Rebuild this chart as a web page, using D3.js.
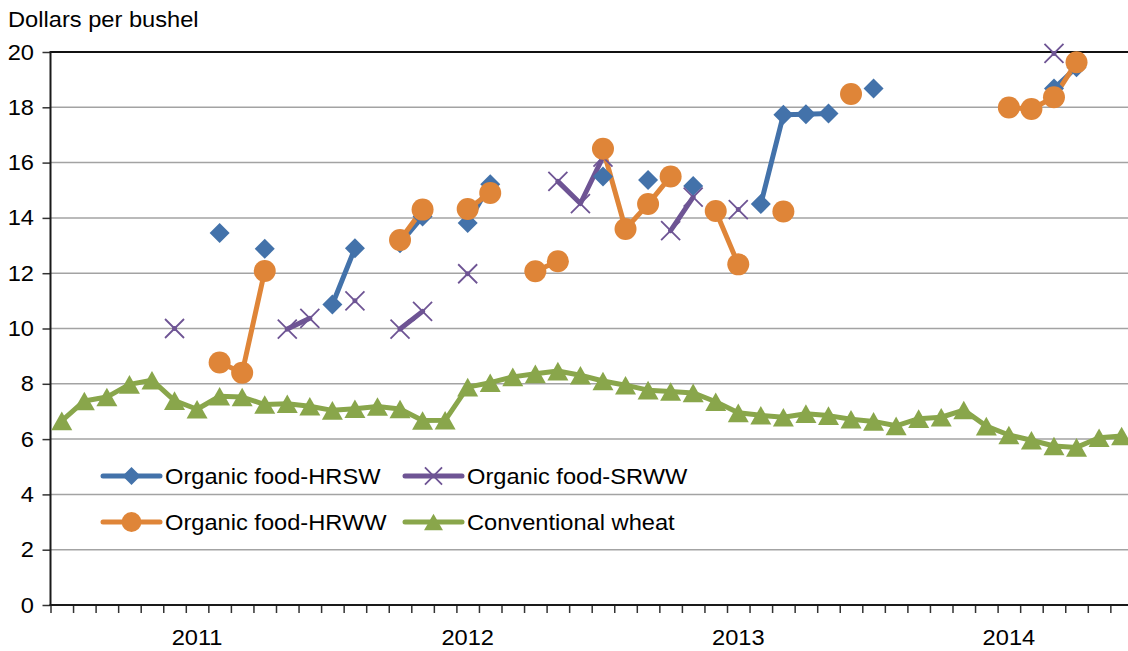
<!DOCTYPE html>
<html><head><meta charset="utf-8">
<script src="https://cdn.jsdelivr.net/npm/d3@7"></script>
<style>
body{margin:0;background:#fff}
svg{display:block}
text{font-family:"Liberation Sans",Arial,Helvetica,sans-serif;fill:#000}
</style>
</head><body>
<svg id="chart" width="1128" height="651"></svg>
<script>
// ---- data ----
const months = [
 "2010-07","2010-08","2010-09","2010-10","2010-11","2010-12",
 "2011-01","2011-02","2011-03","2011-04","2011-05","2011-06","2011-07","2011-08","2011-09","2011-10","2011-11","2011-12",
 "2012-01","2012-02","2012-03","2012-04","2012-05","2012-06","2012-07","2012-08","2012-09","2012-10","2012-11","2012-12",
 "2013-01","2013-02","2013-03","2013-04","2013-05","2013-06","2013-07","2013-08","2013-09","2013-10","2013-11","2013-12",
 "2014-01","2014-02","2014-03","2014-04","2014-05","2014-06"];
const yTicks = [0,2,4,6,8,10,12,14,16,18,20];
const yearLabels = ["2011","2012","2013","2014"];
const seriesNames = ["Organic food-HRSW","Organic food-SRWW","Organic food-HRWW","Conventional wheat"];

const hrsw = [null,null,null,null,null,null,null,13.45,null,12.88,null,null,10.87,12.9,null,13.08,14.05,null,13.82,15.22,
 null,null,null,null,15.5,null,15.37,null,15.15,null,null,14.5,17.73,17.75,17.78,null,18.68,null,null,null,
 null,null,null,null,18.68,19.45,null,null];
const srww = [null,null,null,null,null,10.0,null,null,null,null,9.98,10.37,null,11.0,null,9.98,10.62,null,11.98,null,
 null,null,15.32,14.52,16.2,null,null,13.54,14.75,null,14.3,null,null,null,null,null,null,null,null,null,
 null,null,null,null,19.95,null,null,null];
const hrww = [null,null,null,null,null,null,null,8.77,8.4,12.08,null,null,null,null,null,13.2,14.3,null,14.32,14.9,
 null,12.07,12.43,null,16.5,13.6,14.5,15.5,null,14.25,12.32,null,14.23,null,null,18.48,null,null,null,null,
 null,null,17.99,17.94,18.36,19.63,null,null];
const conventional = [6.66,7.38,7.52,7.98,8.13,7.39,7.08,7.55,7.52,7.25,7.28,7.19,7.04,7.1,7.18,7.09,6.67,6.68,7.88,8.04,
 8.25,8.36,8.46,8.31,8.1,7.95,7.77,7.72,7.67,7.35,6.95,6.86,6.79,6.92,6.85,6.72,6.64,6.48,6.74,6.79,
 7.05,6.47,6.15,5.96,5.75,5.7,6.05,6.11];

const colors = ["#4372aa","#6e5494","#df8538","#89a64b"];
const symbols = ["diamond","x","circle","triangle"];
const allSeries = [hrsw, srww, hrww, conventional];

(function draw() {
  const svg = d3.select("#chart");
  const mLeft = 50.5, mTop = 52, mBottom = 605, step = 22.55;
  const mRight = mLeft + months.length * step;
  const SX = 1.1, FS = 21.5;

  const x = d3.scaleBand().domain(months).range([mLeft, mRight]).padding(0);
  const xc = m => x(m) + x.bandwidth() / 2;
  const xi = d3.scaleLinear().domain([0, months.length]).range([mLeft, mRight]);
  const y = d3.scaleLinear().domain([0, 20]).range([mBottom, mTop]);

  function label(g, txt, tx, ty, anchor) {
    return g.append("text")
      .attr("transform", `translate(${tx},${ty}) scale(${SX},1)`)
      .attr("text-anchor", anchor || "start")
      .style("font-size", FS + "px")
      .text(txt);
  }

  // gridlines
  svg.append("g").selectAll("line").data(yTicks.filter(v => v > 0)).join("line")
    .attr("x1", mLeft).attr("x2", 1128)
    .attr("y1", d => y(d)).attr("y2", d => y(d))
    .attr("stroke", d => d === 20 ? "#111" : "#a3a3a3")
    .attr("stroke-width", d => d === 20 ? 2 : 1.5);

  // y axis
  const ya = svg.append("g").attr("transform", `translate(${mLeft},0)`)
    .call(d3.axisLeft(y).tickValues(yTicks).tickSize(8).tickFormat(""));
  ya.select(".domain").remove();
  ya.selectAll(".tick line").attr("stroke", "#333").attr("stroke-width", 1.5);
  svg.append("line").attr("x1", mLeft).attr("x2", mLeft).attr("y1", mTop - 1).attr("y2", mBottom + 1)
    .attr("stroke", "#1a1a1a").attr("stroke-width", 2);
  const yl = svg.append("g");
  yTicks.forEach(v => label(yl, String(v), 34, y(v) + 7.5, "end"));

  // x axis
  const xa = svg.append("g").attr("transform", `translate(0,${mBottom})`)
    .call(d3.axisBottom(xi).tickValues(d3.range(months.length + 1)).tickSize(8).tickFormat(""));
  xa.select(".domain").remove();
  xa.selectAll(".tick line").attr("stroke", "#333").attr("stroke-width", 1.5);
  svg.append("line").attr("x1", mLeft - 1).attr("x2", 1128).attr("y1", mBottom).attr("y2", mBottom)
    .attr("stroke", "#1a1a1a").attr("stroke-width", 2);
  const xl = svg.append("g");
  months.filter(m => m.endsWith("-01")).forEach((m, i) => label(xl, yearLabels[i], xc(m), 645, "middle"));

  // title
  label(svg, "Dollars per bushel", 8, 27);

  function drawMarker(g, type, cx, cy, color, scale) {
    const s = scale || 1;
    if (type === "diamond") {
      const h = 10 * s;
      g.append("path").attr("d", `M${cx},${cy - h}L${cx + h},${cy}L${cx},${cy + h}L${cx - h},${cy}Z`).attr("fill", color);
    } else if (type === "circle") {
      g.append("circle").attr("cx", cx).attr("cy", cy).attr("r", 11 * s).attr("fill", color);
    } else if (type === "triangle") {
      const w = 10.5 * s, h = 9.3 * s;
      g.append("path").attr("d", `M${cx},${cy - h}L${cx + w},${cy + h}L${cx - w},${cy + h}Z`).attr("fill", color);
    } else if (type === "x") {
      const h = 9.5 * s;
      g.append("path").attr("d", `M${cx - h},${cy - h}L${cx + h},${cy + h}M${cx - h},${cy + h}L${cx + h},${cy - h}`)
        .attr("stroke", color).attr("stroke-width", 1.8).attr("fill", "none");
    }
  }

  const line = d3.line().defined(d => d.v != null).x(d => xc(d.m)).y(d => y(d.v));
  const gLines = svg.append("g"), gMarks = svg.append("g");
  allSeries.forEach((vals, si) => {
    const pts = months.map((m, i) => ({ m, v: vals[i] }));
    gLines.append("path").datum(pts).attr("d", line)
      .attr("fill", "none").attr("stroke", colors[si]).attr("stroke-width", 5)
      .attr("stroke-linejoin", "round").attr("stroke-linecap", "round");
  });
  allSeries.forEach((vals, si) => {
    const g = gMarks.append("g");
    months.forEach((m, i) => { if (vals[i] != null) drawMarker(g, symbols[si], xc(m), y(vals[i]), colors[si]); });
  });

  // legend
  const legPos = [[103, 476], [405, 476], [103, 522], [405, 522]];
  const lg = svg.append("g");
  seriesNames.forEach((name, i) => {
    const [lx, ly] = legPos[i];
    lg.append("line").attr("x1", lx).attr("x2", lx + 57).attr("y1", ly).attr("y2", ly)
      .attr("stroke", colors[i]).attr("stroke-width", 5).attr("stroke-linecap", "round");
    drawMarker(lg, symbols[i], lx + 28.5, ly, colors[i], 0.9);
    label(lg, name, lx + 62, ly + 7.5);
  });
})();
</script>
</body></html>
